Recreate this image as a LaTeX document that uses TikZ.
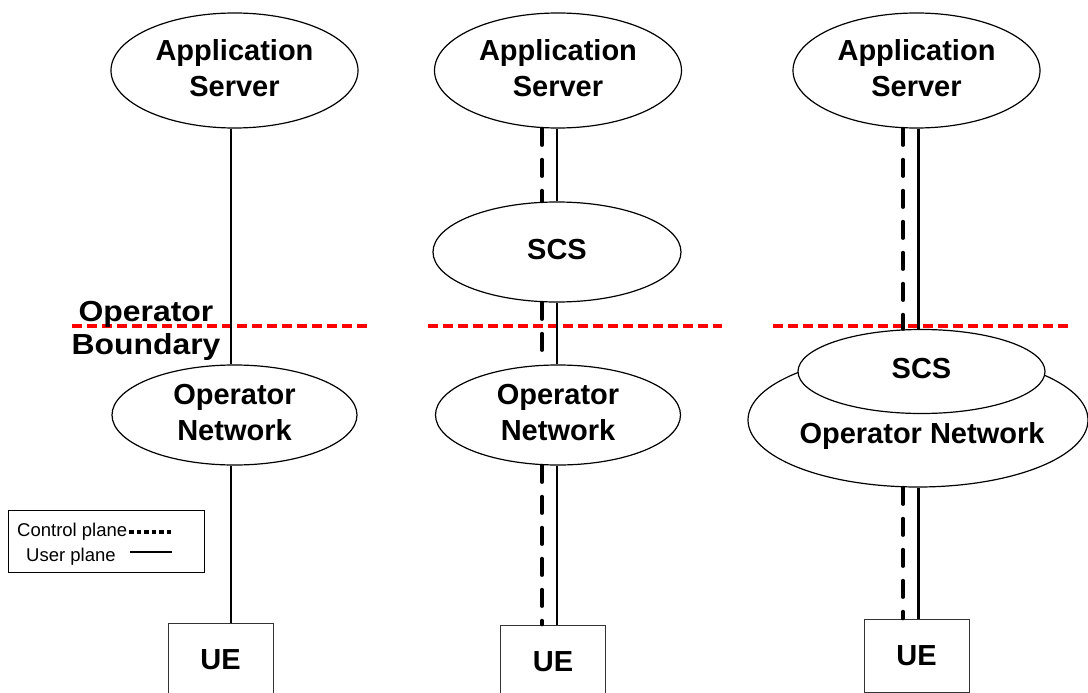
\documentclass[tikz,border=0pt]{standalone}
\usepackage{fontspec}
\setmainfont{Liberation Sans}
\usetikzlibrary{shapes.geometric}
\newcommand\mybig{\fontsize{29}{36}\selectfont\bfseries}
\newcommand\mybnd{\fontsize{29}{33}\selectfont\bfseries}
\newcommand\myleg{\fontsize{18.5}{22}\selectfont}
\begin{document}
\begin{tikzpicture}[x=1pt,y=-1pt,
  ell/.style={draw, ellipse, fill=white, line width=1.2pt, inner sep=0pt, align=center, font=\mybig, text depth=5.5pt},
  uebox/.style={draw=black!80, line width=1pt, fill=white, inner sep=0pt, minimum width=105pt, minimum height=73pt, font=\mybig},
  userline/.style={line width=2.4pt},
  ctrlline/.style={line width=3.6pt, line cap=round, dash pattern=on 16.5pt off 14.5pt},
  bndline/.style={red, line width=3.2pt, dash pattern=on 10pt off 5pt}]
\useasboundingbox (0,0) rectangle (1088,693);
% boundary lines
\coordinate (b1l) at (72,326); \coordinate (b1r) at (368,326);
\coordinate (b2l) at (428,326); \coordinate (b2r) at (722,326);
\coordinate (b3l) at (773,326); \coordinate (b3r) at (1068,326);
\draw[bndline] (b1l) -- (b1r);
\draw[bndline] (b2l) -- (b2r);
\draw[bndline] (b3l) -- (b3r);
% x positions of connectors
\coordinate (u1) at (231,0);
\coordinate (d2) at (542,0); \coordinate (u2) at (557,0);
\coordinate (d3) at (903,0); \coordinate (u3) at (918.5,0);
% nodes
\node[ell, minimum width=247pt, minimum height=115pt] (as1) at (234.5,70.5) {Application\\Server};
\node[ell, minimum width=247pt, minimum height=115pt] (as2) at (558,70.5) {Application\\Server};
\node[ell, minimum width=247pt, minimum height=115pt] (as3) at (916.5,70.5) {Application\\Server};
\node[ell, minimum width=248pt, minimum height=100pt] (scs2) at (557,252) {SCS};
\node[ell, minimum width=245pt, minimum height=100pt] (on1) at (234.5,415) {Operator\\Network};
\node[ell, minimum width=245pt, minimum height=100pt] (on2) at (558,415) {Operator\\Network};
\node[ell, minimum width=340pt, minimum height=134pt] (on3) at (918,420) {};
\node[font=\mybig, inner sep=0pt] (on3t) at (922,436) {Operator Network};
\node[ell, minimum width=247pt, minimum height=84pt] (scs3) at (921.5,371.5) {SCS};
\node[uebox] (ue1) at (220.5,659.5) {UE};
\node[uebox] (ue2) at (553,661.5) {UE};
\node[uebox] (ue3) at (916.5,655.5) {UE};
% column 1
\draw[userline] (u1 |- as1.south) -- (u1 |- on1.north);
\draw[userline] (u1 |- on1.south) -- (u1 |- ue1.north);
% column 2
\draw[ctrlline] (d2 |- as2.south) -- (d2 |- scs2.north);
\draw[userline] (u2 |- as2.south) -- (u2 |- scs2.north);
\draw[ctrlline] (d2 |- scs2.south) -- (d2 |- on2.north);
\draw[userline] (u2 |- scs2.south) -- (u2 |- on2.north);
\draw[ctrlline] (d2 |- on2.south) -- (d2 |- ue2.north);
\draw[userline] (u2 |- on2.south) -- (u2 |- ue2.north);
% column 3
\draw[ctrlline] (d3 |- as3.south) -- (d3 |- scs3.north);
\draw[userline] (u3 |- as3.south) -- (u3 |- scs3.north);
\draw[ctrlline] (d3 |- on3.south) -- (d3 |- ue3.north);
\draw[userline] (u3 |- on3.south) -- (u3 |- ue3.north);
% operator boundary label
\node[font=\mybnd, align=center, inner sep=0pt] (ob) at (146,331) {\scalebox{1.1}[1]{Operator}\\\scalebox{1.1}[1]{Boundary}};
% legend
\node[draw, line width=0.8pt, minimum width=196pt, minimum height=62pt, inner sep=0pt] (leg) at (106,541) {};
\node[anchor=base west, font=\myleg, inner sep=0pt] (lc) at (17,536) {Control plane};
\node[anchor=base west, font=\myleg, inner sep=0pt] (lu) at (26,561) {User plane};
\coordinate (lcs) at (129,532); \coordinate (lce) at (173,532);
\coordinate (lus) at (130,552); \coordinate (lue) at (172,552);
\draw[line width=3.2pt, dash pattern=on 4.5pt off 3pt] (lcs) -- (lce);
\draw[line width=1.8pt] (lus) -- (lue);
\end{tikzpicture}
\end{document}
